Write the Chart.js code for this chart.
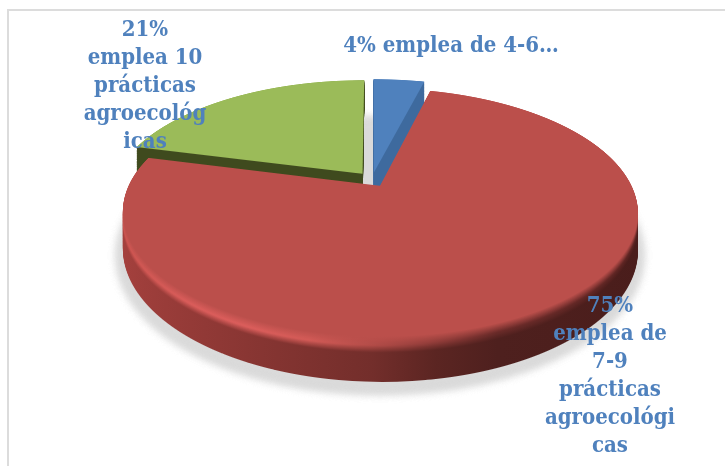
<!DOCTYPE html>
<html lang="es">
<head>
<meta charset="utf-8">
<title>Prácticas agroecológicas</title>
<script src="https://cdn.jsdelivr.net/npm/chart.js@4"></script>
<style>
    html, body { margin: 0; padding: 0; background: #fff; }
    canvas { display: block; }
</style>
</head>
<body>
<canvas id="pieChart" width="725" height="466"></canvas>
<script>
/* ---- data ---- */
const categories = ["emplea de 4-6", "emplea de 7-9 prácticas agroecológicas", "emplea 10 prácticas agroecológicas"];
const percentValues = [4, 75, 21];
const sliceColors = ["#4f81bd", "#bb4f4b", "#9bbb59"];
const labelLines = [
    ["4% emplea de 4-6…"],
    ["75%", "emplea de", "7-9", "prácticas", "agroecológi", "cas"],
    ["21%", "emplea 10", "prácticas", "agroecológ", "icas"]
];

/* ---- look of the tilted pie ---- */
const LABEL_COLOR = "#4f81bd";
const LABEL_FONT = "bold 22px 'DejaVu Serif Condensed', 'DejaVu Serif', serif";
const LABEL_SPOTS = [
    { x: 451, y: 52, step: 0 },
    { x: 610, y: 312, step: 28 },
    { x: 145, y: 36, step: 28 }
];
const VIEW = { x: 372, y: 179.5, width: 248.5, height: 115.7, tilt: 0.213, depth: 35 };
const PAINT_ORDER = [0, 2, 1]; // back slices first, the red one sits in front

// side wall and rim shades, stops run left to right across the pie
const WALLS = [
    { wall: [[0, "#3e6a9e"], [1, "#3e6a9e"]], rim: null },
    {
        wall: [[0, "#a8423f"], [0.25, "#8f3835"], [0.5, "#732e2b"], [0.65, "#4f201e"], [1, "#4a1d1b"]],
        rim: [[0, "#c9524e"], [0.25, "#e0605e"], [0.42, "#d25a56"], [0.55, "#a04340"], [0.7, "#6b2b29"], [1, "#5c2422"]]
    },
    { wall: [[0, "#3f4a1e"], [1, "#3f4a1e"]], rim: null }
];

function hexToRgb(hex) {
    return [1, 3, 5].map(i => parseInt(hex.substr(i, 2), 16));
}

function mixHex(a, b, k) {
    const ca = hexToRgb(a), cb = hexToRgb(b);
    return "rgb(" + ca.map((c, i) => Math.round(c + (cb[i] - c) * k)).join(",") + ")";
}

function rgbToHex(color) {
    if (color[0] === "#") return color;
    return "#" + color.match(/\d+/g).map(c => (+c).toString(16).padStart(2, "0")).join("");
}

function colorAt(stops, pos) {
    for (let i = 1; i < stops.length; i++) {
        if (pos <= stops[i][0]) {
            const k = (pos - stops[i - 1][0]) / (stops[i][0] - stops[i - 1][0]);
            return mixHex(stops[i - 1][1], stops[i][1], k);
        }
    }
    return stops[stops.length - 1][1];
}

// one fill per depth layer, deepest first, t = 1 is the floor and t = 0 the top face
function buildLayers(ctx, arc, index) {
    const props = arc.getProps(["x", "outerRadius"], true);
    const shades = WALLS[index];
    const top = sliceColors[index];
    const positions = [0, 0.1, 0.2, 0.3, 0.4, 0.5, 0.6, 0.7, 0.8, 0.9, 1];
    const layers = [];
    const count = 48;
    for (let n = count; n >= 0; n--) {
        const t = n / count;
        const grad = ctx.createLinearGradient(props.x - props.outerRadius, 0, props.x + props.outerRadius, 0);
        positions.forEach(pos => {
            const wall = rgbToHex(colorAt(shades.wall, pos));
            let shade = wall;
            if (shades.rim) {
                const rim = rgbToHex(colorAt(shades.rim, pos));
                if (t < 0.2) shade = mixHex(rim, top, 1 - t / 0.2);
                else if (t < 0.36) shade = mixHex(wall, rim, 1 - (t - 0.2) / 0.16);
            } else if (t === 0) {
                shade = top;
            }
            grad.addColorStop(pos, shade);
        });
        layers.push({ t, fill: grad });
    }
    return layers;
}

function slicePath(ctx, arc) {
    const p = arc.getProps(["x", "y", "startAngle", "endAngle", "outerRadius"], true);
    const mid = (p.startAngle + p.endAngle) / 2;
    const shift = (arc.options.offset || 0) / 4; // same shift the arc element itself applies
    const cx = p.x + Math.cos(mid) * shift;
    const cy = p.y + Math.sin(mid) * shift;
    ctx.beginPath();
    ctx.moveTo(cx, cy);
    ctx.arc(cx, cy, p.outerRadius, p.startAngle, p.endAngle);
    ctx.closePath();
}

const tiltedPie = {
    id: "tiltedPie",
    beforeDraw(chart) {
        const { ctx } = chart;
        ctx.save();
        ctx.fillStyle = "#dcdcdc";
        ctx.fillRect(7, 9, chart.width - 7, 2);
        ctx.fillRect(7, 9, 2, chart.height - 9);
        ctx.restore();
    },
    beforeDatasetsDraw(chart) {
        const { ctx } = chart;
        const arcs = chart.getDatasetMeta(0).data;
        const first = arcs[0].getProps(["x", "y", "outerRadius"], true);
        const R = first.outerRadius;
        const layers = arcs.map((arc, i) => buildLayers(ctx, arc, i));

        // soft floor shadow under the whole disc
        ctx.save();
        ctx.filter = "blur(4px)";
        ctx.fillStyle = "#dadada";
        ctx.beginPath();
        ctx.ellipse(VIEW.x + 8, VIEW.y + 76, 263, 138, 0, 0, Math.PI * 2);
        ctx.fill();
        ctx.restore();

        // every output row gets its own scale, that gives the perspective
        for (let row = 60; row < 400; row++) {
            const y = row + 0.5 - VIEW.y;
            ctx.save();
            ctx.beginPath();
            ctx.rect(0, row, chart.width, 1);
            ctx.clip();
            PAINT_ORDER.forEach(i => {
                layers[i].forEach(layer => {
                    const D = VIEW.depth * layer.t;
                    const v = (y - D) / (VIEW.height + VIEW.tilt * y);
                    const s = 1 / (1 - VIEW.tilt * v);
                    const dy = (VIEW.height + VIEW.tilt * D) * s * s;
                    const sx = VIEW.width * s / R;
                    ctx.setTransform(sx, 0, 0, dy / R, VIEW.x - sx * first.x, row + 0.5 - dy * (first.y / R + v));
                    ctx.fillStyle = layer.fill;
                    slicePath(ctx, arcs[i]);
                    ctx.fill();
                });
            });
            ctx.restore();
        }

        // the stacked fills harden their edges, soften them a little
        ctx.save();
        ctx.filter = "blur(0.7px)";
        ctx.drawImage(chart.canvas, 0, 0);
        ctx.restore();
        return false;
    },
    afterDraw(chart) {
        const { ctx } = chart;
        ctx.save();
        ctx.font = LABEL_FONT;
        ctx.fillStyle = LABEL_COLOR;
        ctx.textAlign = "center";
        labelLines.forEach((lines, i) => {
            const spot = LABEL_SPOTS[i];
            lines.forEach((line, n) => ctx.fillText(line, spot.x, spot.y + n * spot.step));
        });
        ctx.restore();
    }
};

new Chart(document.getElementById("pieChart"), {
    type: "pie",
    data: {
        labels: categories,
        datasets: [{
            data: percentValues,
            backgroundColor: sliceColors,
            borderWidth: 0,
            offset: 52
        }]
    },
    options: {
        responsive: false,
        animation: false,
        events: [],
        plugins: { legend: { display: false }, tooltip: { enabled: false } }
    },
    plugins: [tiltedPie]
});
</script>
</body>
</html>
